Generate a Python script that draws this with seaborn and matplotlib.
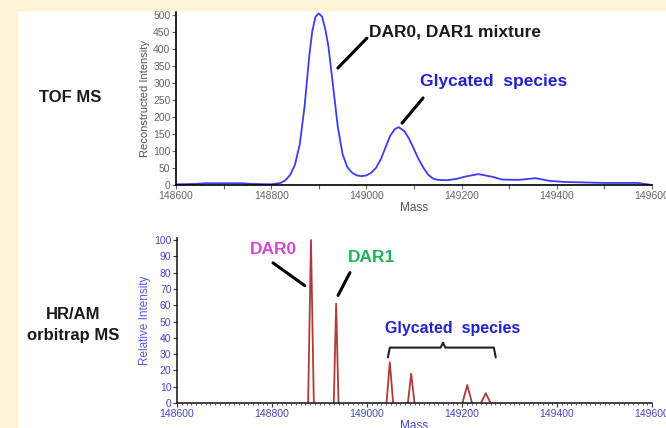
import numpy as np
import pandas as pd
import seaborn as sns
import matplotlib.pyplot as plt
from matplotlib.patches import Rectangle
from matplotlib.ticker import MultipleLocator

# --- TOF MS deconvoluted profile ---
tof_mass = [148600, 148640, 148660, 148700, 148740, 148760, 148800, 148820, 148830,
            148840, 148850, 148860, 148870, 148880, 148886, 148893, 148900, 148907,
            148914, 148920, 148930, 148940, 148950, 148960, 148970, 148980, 148990,
            149000, 149010, 149020, 149030, 149040, 149050, 149060, 149068, 149080,
            149090, 149100, 149110, 149120, 149130, 149140, 149150, 149170, 149190,
            149205, 149220, 149235, 149250, 149265, 149285, 149320, 149355, 149385,
            149415, 149500, 149570, 149590, 149600]
tof_intensity = [2, 3, 5, 5, 5, 3, 2, 6, 14,
                 30, 60, 120, 230, 380, 450, 495, 505, 495,
                 455, 410, 290, 170, 90, 52, 36, 28, 26,
                 28, 36, 50, 75, 110, 145, 165, 170, 158,
                 135, 105, 75, 50, 30, 19, 15, 14, 18,
                 24, 28, 32, 28, 24, 16, 15, 20, 12,
                 9, 6, 6, 2, 0]

# --- HR/AM orbitrap peaks ---
orbi_mass = [148882, 148935, 149048, 149093, 149211, 149250]
orbi_intensity = [100, 61, 25, 18, 11, 6]
orbi_halfwidth = [6, 5, 7, 7, 10, 10]

top_ticks = [148600, 148800, 149000, 149200, 149400, 149600]

sns.set_style("white")
plt.rcParams['font.family'] = ['Liberation Sans', 'DejaVu Sans']

fig = plt.figure(figsize=(6.66, 4.28), dpi=100)
fig.patch.set_facecolor("white")
cream = "#FFF3D4"
fig.patches.append(Rectangle((0, 0), 17 / 666, 1, transform=fig.transFigure,
                             color=cream, zorder=0))
fig.patches.append(Rectangle((0, 1 - 10 / 428), 1, 10 / 428, transform=fig.transFigure,
                             color=cream, zorder=0))

# ---------- top panel ----------
ax1 = fig.add_axes([0.2643, 0.5678, 0.7147, 0.405])
df_tof = pd.DataFrame({"mass": tof_mass, "intensity": tof_intensity})
sns.lineplot(data=df_tof, x="mass", y="intensity", color="#3C3CF5", lw=1.3, ax=ax1)
ax1.set_xlim(148600, 149600)
ax1.set_ylim(0, 510)
ax1.set_xticks(top_ticks)
ax1.xaxis.set_minor_locator(MultipleLocator(100))
ax1.yaxis.set_major_locator(MultipleLocator(50))
for s in ["top", "right"]:
    ax1.spines[s].set_visible(False)
for s in ["left", "bottom"]:
    ax1.spines[s].set_color("black")
    ax1.spines[s].set_linewidth(1.2)
ax1.tick_params(axis="both", which="both", direction="out", length=3, width=0.8,
                colors="#666666", labelsize=7.5, pad=1)
ax1.tick_params(axis="both", which="both", bottom=True, left=True)
ax1.set_xlabel("Mass", fontsize=8.5, color="#555555", labelpad=1)
ax1.set_ylabel("Reconstructed Intensity", fontsize=8, color="#555555", labelpad=2)

ax1.text(149005, 450, "DAR0, DAR1 mixture", fontsize=12.5, fontweight="bold",
         color="#1a1a1a", ha="left", va="center")
ax1.plot([148940, 149001], [344, 432], color="black", lw=2.2)
ax1.text(149113, 303, "Glycated  species", fontsize=12.5, fontweight="bold",
         color="#2222CC", ha="left", va="center")
ax1.plot([149075, 149119], [182, 256], color="black", lw=2.2)

# ---------- bottom panel ----------
ax2 = fig.add_axes([0.2658, 0.0584, 0.7132, 0.3846])
rows = []
for i, (m, h, w) in enumerate(zip(orbi_mass, orbi_intensity, orbi_halfwidth)):
    rows += [(i, m - w, 0), (i, m, h), (i, m + w, 0)]
df_orbi = pd.DataFrame(rows, columns=["peak", "mass", "intensity"])
sns.lineplot(data=df_orbi, x="mass", y="intensity", units="peak", estimator=None,
             color="#B03A3A", lw=1.3, ax=ax2)
ax2.set_xlim(148600, 149600)
ax2.set_ylim(0, 101)
ax2.set_xticks(top_ticks)
ax2.xaxis.set_minor_locator(MultipleLocator(10))
ax2.yaxis.set_major_locator(MultipleLocator(10))
for s in ["top", "right"]:
    ax2.spines[s].set_visible(False)
for s in ["left", "bottom"]:
    ax2.spines[s].set_color("#222222")
    ax2.spines[s].set_linewidth(1.2)
ax2.tick_params(axis="both", which="major", direction="out", length=3, width=0.8,
                colors="#4646C8", labelsize=7.5, pad=1)
ax2.tick_params(axis="x", which="minor", direction="out", length=1.5, width=0.6,
                color="#444444")
ax2.tick_params(axis="both", which="both", bottom=True, left=True)
ax2.tick_params(axis="both", which="major", color="#333333")
ax2.set_xlabel("Mass", fontsize=8.5, color="#4646C8", labelpad=1)
ax2.set_ylabel("Relative Intensity", fontsize=8.5, color="#5A5AE6", labelpad=2)

ax2.text(148802, 94, "DAR0", fontsize=12.5, fontweight="bold", color="#D448D4",
         ha="center", va="center")
ax2.plot([148802, 148869], [86, 72], color="black", lw=2.2)
ax2.text(149010, 89, "DAR1", fontsize=12.5, fontweight="bold", color="#22B257",
         ha="center", va="center")
ax2.plot([148964, 148939], [80, 66], color="black", lw=2.2)
ax2.text(149038, 46, "Glycated  species", fontsize=11.5, fontweight="bold",
         color="#2222CC", ha="left", va="center")
ax2.plot([149044, 149048, 149155, 149160, 149165, 149267, 149271],
         [28, 34, 34, 37, 34, 34, 28], color="#222222", lw=1.5)

# ---------- left labels ----------
fig.text(70 / 666, 1 - 97 / 428, "TOF MS", fontsize=12, fontweight="bold",
         color="#1a1a1a", ha="center", va="center")
fig.text(73 / 666, 1 - 325 / 428, "HR/AM\norbitrap MS", fontsize=12, fontweight="bold",
         color="#1a1a1a", ha="center", va="center", linespacing=1.45)

fig.savefig("out.png", dpi=100)
